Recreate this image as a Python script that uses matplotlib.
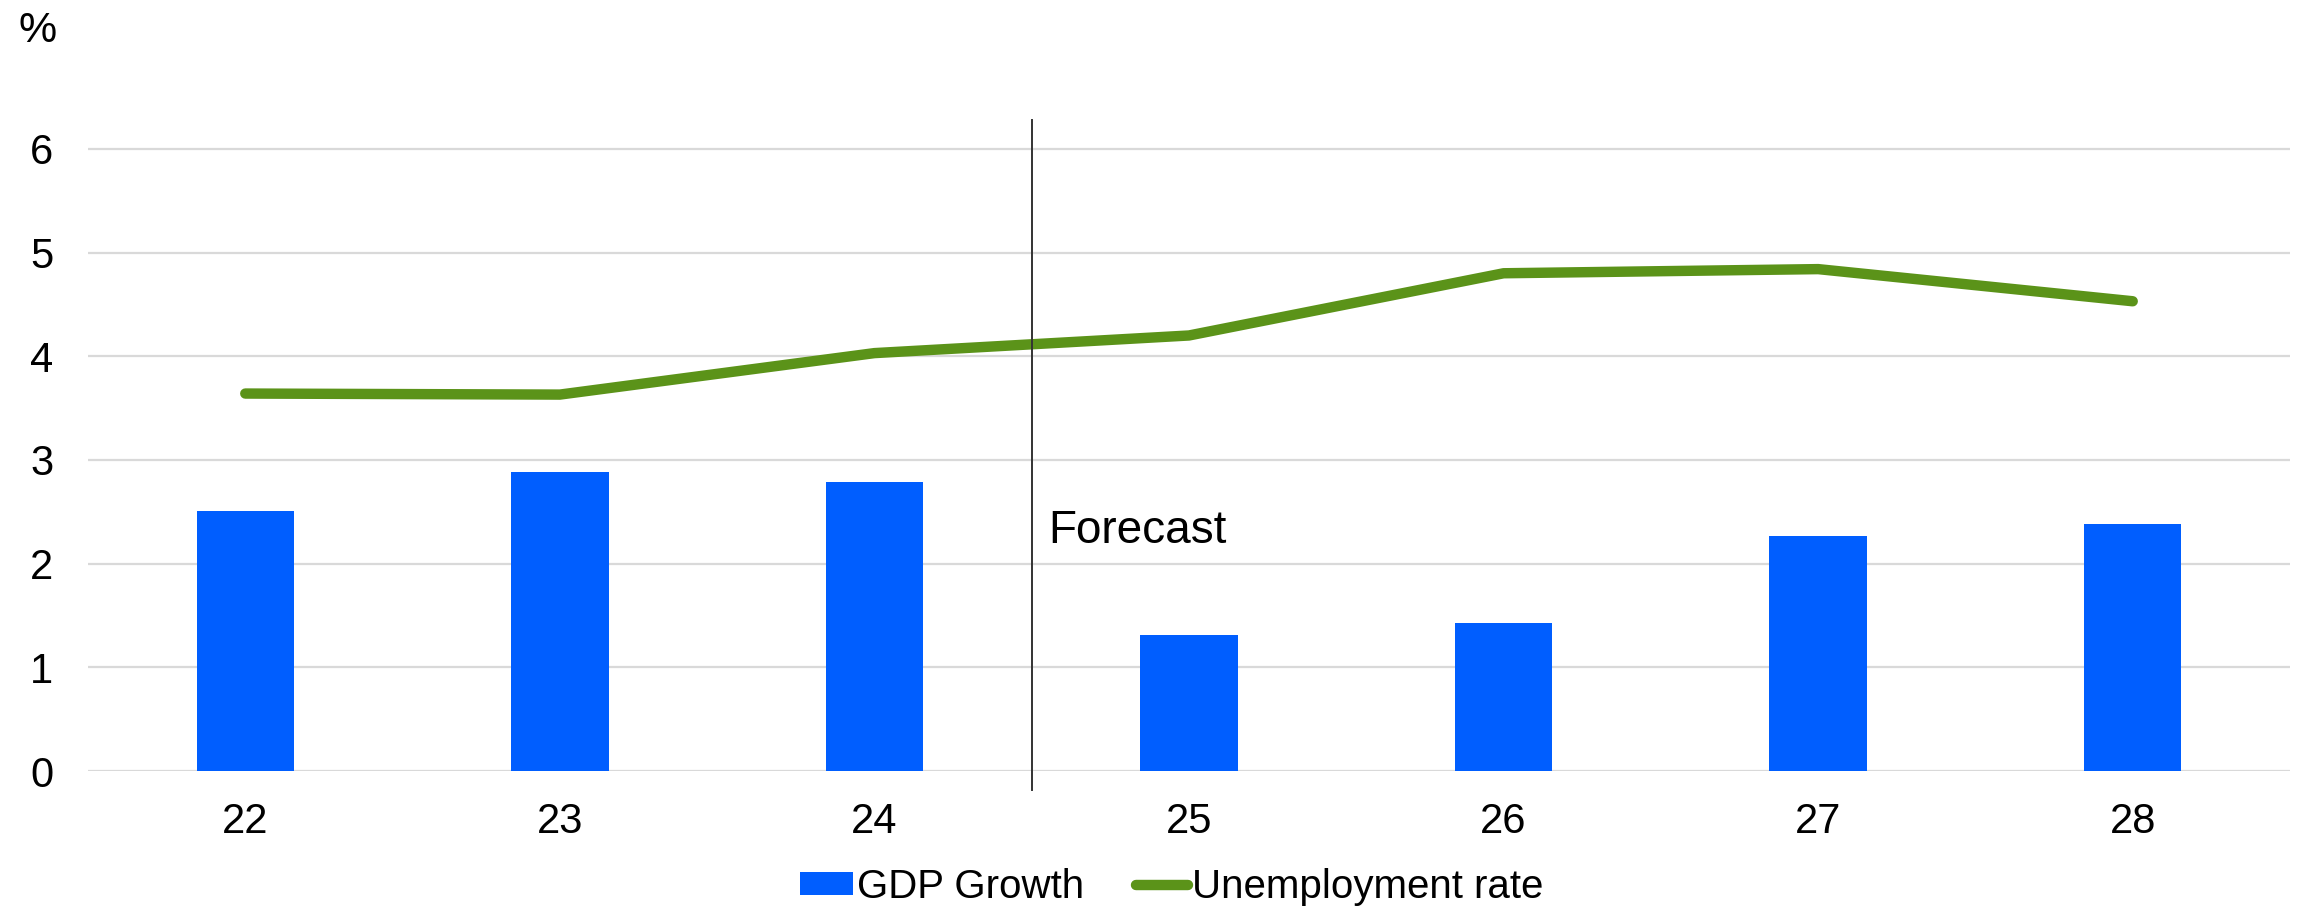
import matplotlib.pyplot as plt
import numpy as np

plt.rcParams['font.family'] = ['Liberation Sans', 'DejaVu Sans']

# Data
years = ['22', '23', '24', '25', '26', '27', '28']
gdp_growth = [2.51, 2.88, 2.79, 1.31, 1.43, 2.27, 2.38]
unemployment = [3.64, 3.63, 4.03, 4.20, 4.80, 4.84, 4.53]
y_ticks = [0, 1, 2, 3, 4, 5, 6]

blue = '#005eff'
green = '#5b9319'
grid_grey = '#d9d9d9'

fig = plt.figure(figsize=(23.05, 9.09), dpi=100)
ax = fig.add_axes([88 / 2305, 0.1518, 2202 / 2305, 0.7187])

x = np.arange(len(years))

# Gridlines
for yv in y_ticks:
    ax.axhline(yv, color=grid_grey, linewidth=1.6, zorder=0)

# Bars and line
bars = ax.bar(x, gdp_growth, width=0.31, color=blue, zorder=2, label='GDP Growth')
line, = ax.plot(x, unemployment, color=green, linewidth=7.5, solid_capstyle='round',
                solid_joinstyle='round', zorder=3, label='Unemployment rate')

# Forecast divider
ax.plot([2.5, 2.5], [-0.18, 6.28], color='#333333', linewidth=1.4,
        zorder=4, clip_on=False)
ax.text(2.553, 2.2, 'Forecast', fontsize=33, va='baseline', ha='left', zorder=5)

ax.set_xlim(-0.5, len(years) - 0.5)
ax.set_ylim(0, 6.3)
ax.set_xticks(x)
ax.set_xticklabels(years, fontsize=30)
ax.set_yticks(y_ticks)
ax.set_yticklabels([str(v) for v in y_ticks], fontsize=30)
ax.tick_params(axis='both', length=0)
ax.tick_params(axis='y', pad=25)
ax.tick_params(axis='x', pad=22)
for spine in ax.spines.values():
    spine.set_visible(False)

fig.text(19 / 2305, 1 - 42 / 909, '%', fontsize=31, ha='left', va='baseline')

fig.legend([bars, line], ['GDP Growth', 'Unemployment rate'], loc='center',
           bbox_to_anchor=(1172 / 2305, 1 - 887 / 909), ncol=2,
           frameon=False, fontsize=29, handlelength=1.3, handleheight=0.5,
           handletextpad=0.1, columnspacing=1.3, borderaxespad=0, borderpad=0)

fig.savefig('out.png', dpi=100)
